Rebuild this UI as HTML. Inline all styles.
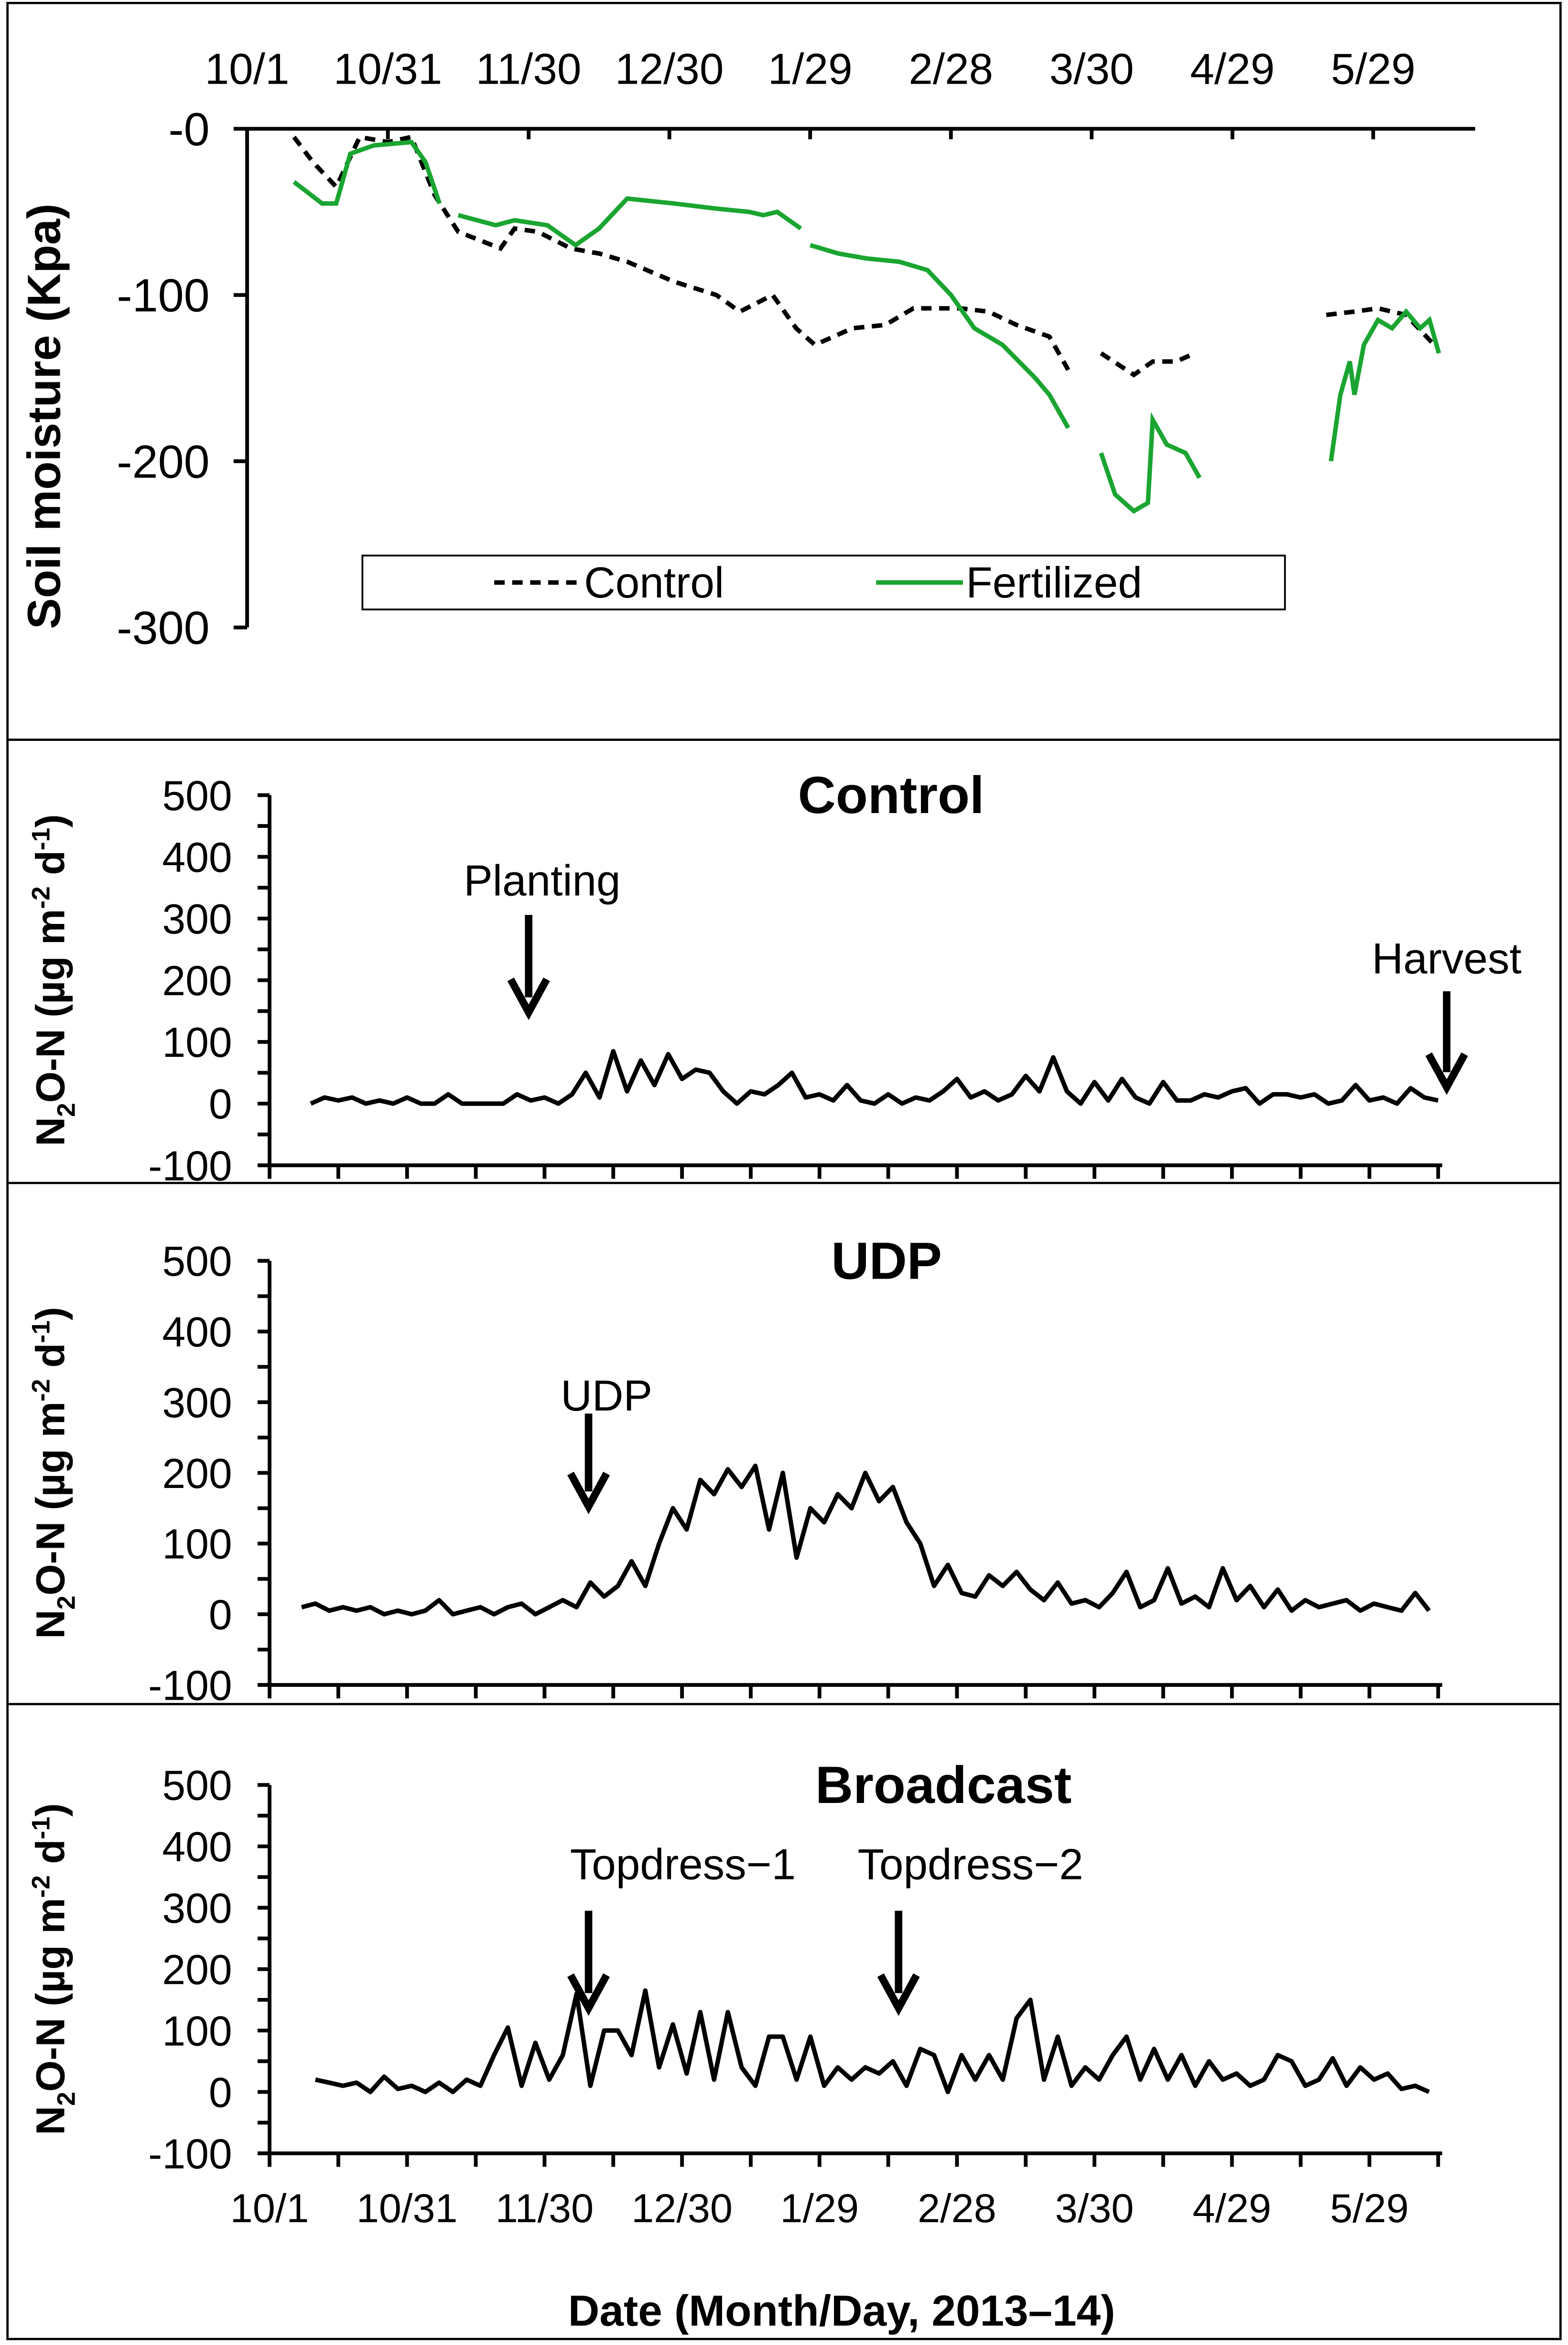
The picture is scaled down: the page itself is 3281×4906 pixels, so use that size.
<!DOCTYPE html>
<html><head><meta charset="utf-8"><style>html,body{margin:0;padding:0;background:#fff}svg{display:block}text{font-family:"Liberation Sans",Arial,sans-serif}</style></head>
<body>
<svg id="fig" xmlns="http://www.w3.org/2000/svg" width="3281" height="4906" viewBox="0 0 1047 1566" preserveAspectRatio="none">
<rect x="5" y="2" width="1037" height="1560" fill="#fff" stroke="#000" stroke-width="1.5"/>
<line x1="5" y1="494" x2="1042" y2="494" stroke="#000" stroke-width="1.5"/>
<line x1="5" y1="790" x2="1042" y2="790" stroke="#000" stroke-width="1.5"/>
<line x1="5" y1="1138" x2="1042" y2="1138" stroke="#000" stroke-width="1.5"/>
<g id="g"></g>
</svg>
<script>
const dateLabels=["10/1","10/31","11/30","12/30","1/29","2/28","3/30","4/29","5/29"];
const smDays=[10,14,19,24,30,35,40,45,54,57,62,69,75,81,91,100,105,112,117,121,129,136,142,152,158,164,171,175,null,182,189,193,198,202,null,230,236,241,247,253];
const smControl=[-5,-20,-35,-5,-8,-5,-40,-62,-72,-60,-62,-72,-75,-80,-92,-100,-110,-100,-120,-130,-120,-118,-108,-108,-110,-118,-125,-145,null,-135,-148,-140,-140,-135,null,-112,-110,-108,-112,-130];
const smFertDays=[10,16,19,22,27,35,38,41,null,45,53,57,64,70,75,81,91,100,107,110,113,118,null,120,126,132,139,145,150,155,161,168,171,175,null,182,185,189,192,193,196,200,203,null,231,233,235,236,238,241,244,247,250,252,254];
const smFert=[-32,-45,-45,-15,-10,-8,-20,-45,null,-52,-58,-55,-58,-70,-60,-42,-45,-48,-50,-52,-50,-60,null,-70,-75,-78,-80,-85,-100,-120,-130,-150,-160,-180,null,-195,-220,-230,-225,-175,-190,-195,-210,null,-200,-160,-140,-160,-130,-115,-120,-110,-120,-115,-135];
const yTicksSM=[0,-100,-200,-300];
const yTicksN=[500,400,300,200,100,0,-100];
const ctrlStart=9;
const ctrlVals=[0,10,5,10,0,5,0,10,0,0,15,0,0,0,0,15,5,10,0,15,50,10,85,20,70,30,80,40,55,50,20,0,20,15,30,50,10,15,5,30,5,0,15,0,10,5,20,40,10,20,5,15,45,20,75,20,0,35,5,40,10,0,35,5,5,15,10,20,25,0,15,15,10,15,0,5,30,5,10,0,25,10,5];
const udpStart=7;
const udpVals=[10,15,5,10,5,10,0,5,0,5,20,0,5,10,0,10,15,0,10,20,10,45,25,40,75,40,100,150,120,190,170,205,180,210,120,200,80,150,130,170,150,200,160,180,130,100,40,70,30,25,55,40,60,35,20,45,15,20,10,30,60,10,20,65,15,25,10,65,20,40,10,35,5,20,10,15,20,5,15,10,5,30,5];
const bcStart=10;
const bcVals=[20,15,10,15,0,25,5,10,0,15,0,20,10,60,105,10,80,20,60,160,10,100,100,60,165,40,110,30,130,20,130,40,10,90,90,20,90,10,40,20,40,30,50,10,70,60,0,60,20,60,20,120,150,20,90,10,40,20,60,90,20,70,20,60,10,50,20,30,10,20,60,50,10,20,55,10,40,20,30,5,10,0];
const NS="http://www.w3.org/2000/svg";
const G=document.getElementById('g');
function mk(t,a,txt){const e=document.createElementNS(NS,t);for(const k in a)e.setAttribute(k,a[k]);if(txt!==undefined)e.textContent=txt;G.appendChild(e);return e;}
function pathFrom(xs,ys,fx,fy){let d="",pen=false;for(let i=0;i<xs.length;i++){if(xs[i]===null||ys[i]===null){pen=false;continue;}d+=(pen?"L":"M")+fx(xs[i]).toFixed(1)+" "+fy(ys[i]).toFixed(1);pen=true;}return d;}
const sx=d=>165+d*3.133, sy=v=>86-v*1.11;
let e=mk('line',{x1:165,y1:86,x2:985,y2:86,stroke:'#000','stroke-width':2.5});

e=mk('line',{x1:165,y1:86,x2:165,y2:419,stroke:'#000','stroke-width':2.5});

dateLabels.forEach((l,i)=>{const x=sx(i*30);
 e=mk('text',{x:x,y:56,'font-size':29,'text-anchor':'middle'},l);
 
 mk('line',{x1:x,y1:86,x2:x,y2:93,stroke:'#000','stroke-width':2.5});});
yTicksSM.forEach(v=>{const y=sy(v);
 e=mk('text',{x:140,y:y+11,'font-size':31,'text-anchor':'end'},v===0?'-0':String(v));
 
 mk('line',{x1:156,y1:y,x2:165,y2:y,stroke:'#000','stroke-width':2.5});});
e=mk('text',{x:0,y:0,'font-size':31,'font-weight':'bold','text-anchor':'middle',transform:'translate(40,278) rotate(-90)'},'Soil moisture (Kpa)');

e=mk('path',{d:pathFrom(smDays,smControl,sx,sy),fill:'none',stroke:'#000','stroke-width':3,'stroke-dasharray':'7,5'});

e=mk('path',{d:pathFrom(smFertDays,smFert,sx,sy),fill:'none',stroke:'#1aa531','stroke-width':3});

e=mk('rect',{x:242,y:371,width:616,height:36,fill:'#fff',stroke:'#000','stroke-width':1.2});

mk('line',{x1:330,y1:389,x2:388,y2:389,stroke:'#000','stroke-width':3,'stroke-dasharray':'7,5'});
e=mk('text',{x:390,y:399,'font-size':29},'Control');

mk('line',{x1:585,y1:389,x2:643,y2:389,stroke:'#1aa531','stroke-width':3});
e=mk('text',{x:645,y:399,'font-size':29},'Fertilized');

function panel(name,y500,y0,start,vals,title,titleX){
 const per=(y0-y500)/500;
 const fx=d=>180+d*3.06, fy=v=>y0-v*per;
 const yb=fy(-100);
 let a=mk('line',{x1:180,y1:y500,x2:180,y2:yb,stroke:'#000','stroke-width':2.5});
 
 a=mk('line',{x1:172,y1:yb,x2:963,y2:yb,stroke:'#000','stroke-width':2.5});
 
 for(let d=0;d<=255;d+=15){mk('line',{x1:fx(d),y1:yb,x2:fx(d),y2:yb+9,stroke:'#000','stroke-width':2.5});}
 for(let v=-100;v<=500;v+=50){mk('line',{x1:172,y1:fy(v),x2:180,y2:fy(v),stroke:'#000','stroke-width':2.5});}
 yTicksN.forEach(v=>{a=mk('text',{x:155,y:fy(v)+10,'font-size':28,'text-anchor':'end'},String(v));
  });
 const xs=vals.map((_,i)=>start+3*i);
 a=mk('path',{d:pathFrom(xs,vals,fx,fy),fill:'none',stroke:'#000','stroke-width':3,'stroke-linejoin':'round'});
 
 a=mk('text',{x:titleX,y:y500+12,'font-size':35,'font-weight':'bold','text-anchor':'middle'},title);
 
 const cy=(y500+yb)/2;
 const t=mk('text',{x:0,y:0,'font-size':27,'font-weight':'bold','text-anchor':'middle',transform:'translate(43,'+cy+') rotate(-90)'});
 
 t.innerHTML='N<tspan font-size="17" dy="7">2</tspan><tspan dy="-7">O-N (µg m</tspan><tspan font-size="17" dy="-10">-2</tspan><tspan dy="10"> d</tspan><tspan font-size="17" dy="-10">-1</tspan><tspan dy="10">)</tspan>';
 return {fx,fy,yb};
}
function arrow(name,x,y1,y2,label,lx,ly){
 let a=mk('line',{x1:x,y1:y1,x2:x,y2:y2-10,stroke:'#000','stroke-width':5});
 
 mk('polyline',{points:(x-12)+','+(y2-22)+' '+x+','+y2+' '+(x+12)+','+(y2-22),fill:'none',stroke:'#000','stroke-width':5,'stroke-linejoin':'miter'});
 a=mk('text',{x:lx,y:ly,'font-size':29,'text-anchor':'middle'},label);
 
}
panel('control',531,737,ctrlStart,ctrlVals,'Control',595);
arrow('planting',353,611,676,'Planting',362,598);
arrow('harvest',966,662,726,'Harvest',966,650);
panel('udp',842,1078,udpStart,udpVals,'UDP',592);
arrow('udp-application',393,944,1006,'UDP',405,942);
panel('broadcast',1192,1397,bcStart,bcVals,'Broadcast',630);
arrow('topdress-1',393,1276,1341,'Topdress−1',456,1255);
arrow('topdress-2',600,1276,1341,'Topdress−2',648,1255);
dateLabels.forEach((l,i)=>{const x=180+i*30*3.06;
 e=mk('text',{x:x,y:1484,'font-size':27,'text-anchor':'middle'},l);
 });
e=mk('text',{x:562,y:1553,'font-size':29,'font-weight':'bold','text-anchor':'middle'},'Date (Month/Day, 2013–14)');

</script>
</body></html>
